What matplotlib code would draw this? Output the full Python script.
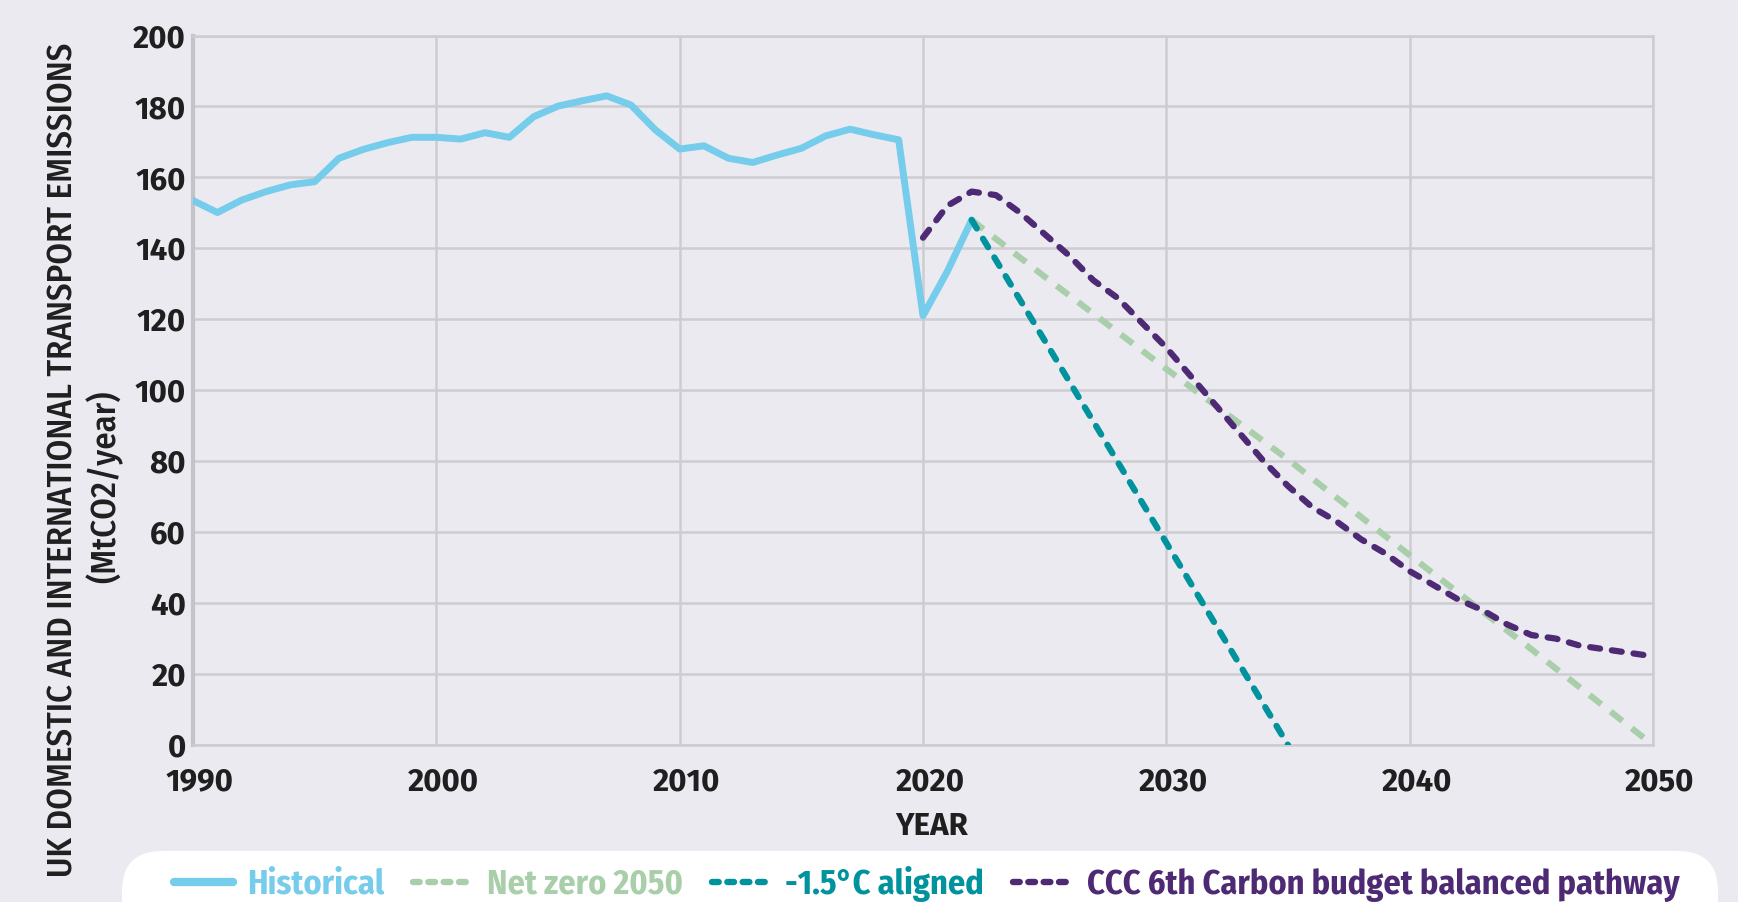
import matplotlib
matplotlib.use("Agg")
import matplotlib.pyplot as plt
import matplotlib.transforms as mtransforms
from matplotlib.patches import FancyBboxPatch

# Data (MtCO2/year)
hist_years = [1990, 1991, 1992, 1993, 1994, 1995, 1996, 1997, 1998, 1999,
              2000, 2001, 2002, 2003, 2004, 2005, 2006, 2007, 2008, 2009,
              2010, 2011, 2012, 2013, 2014, 2015, 2016, 2017, 2018, 2019,
              2020, 2021, 2022]
hist_vals = [153.5, 150.1, 153.6, 156.0, 157.9, 158.8, 165.4, 167.9, 169.8, 171.3,
             171.3, 170.8, 172.6, 171.3, 177.1, 180.1, 181.6, 183.0, 180.4, 173.4,
             168.0, 168.9, 165.4, 164.2, 166.3, 168.2, 171.7, 173.6, 172.0, 170.6,
             121.0, 133.5, 148.0]

netzero_years = [2022, 2025, 2030, 2035, 2040, 2045, 2050]
netzero_vals = [148.0, 132.0, 106.0, 80.5, 53.5, 27.0, 0.0]

aligned_years = [2022, 2025, 2030, 2035]
aligned_vals = [148.0, 114.0, 57.0, 0.0]

ccc_years = list(range(2020, 2051))
ccc_vals = [143, 152, 156, 155, 150, 144, 138, 131, 126, 119,
            112, 104, 96, 88, 80, 73, 67, 63, 58, 54,
            49, 45, 41, 38, 34, 31, 30, 28, 27, 26, 25]

labels = ["Historical", "Net zero 2050", "-1.5°C aligned",
          "CCC 6th Carbon budget balanced pathway"]
colors = ["#75CCEB", "#A8CFAA", "#00939D", "#4E2A74"]

BG = "#ECEAF1"
GRID = "#CDCCD0"
TICK_FONT = ["Fira Sans", "Open Sans", "DejaVu Sans"]
COND_FONT = ["Fira Sans Condensed", "Open Sans Condensed", "DejaVu Sans"]

fig = plt.figure(figsize=(17.38, 9.02), dpi=100, facecolor=BG)
ax = fig.add_axes([193 / 1738, 1 - 745 / 902, 1460 / 1738, 709.5 / 902])
ax.set_facecolor(BG)

ax.plot(hist_years, hist_vals, color=colors[0], lw=5, solid_capstyle="round",
        solid_joinstyle="round", label=labels[0], zorder=3)
ax.plot(netzero_years, netzero_vals, color=colors[1], lw=4.5, dashes=(2.4, 1.9),
        label=labels[1], zorder=3)
ax.plot(aligned_years, aligned_vals, color=colors[2], lw=4.5, dashes=(1.6, 1.9),
        dash_capstyle="round", label=labels[2], zorder=4)
ax.plot(ccc_years, ccc_vals, color=colors[3], lw=4.5, dashes=(1.6, 1.9),
        dash_capstyle="round", label=labels[3], zorder=5)

ax.set_xlim(1990, 2050)
ax.set_ylim(0, 200)
ax.set_xticks(range(1990, 2051, 10))
ax.set_yticks(range(0, 201, 20))
ax.grid(True, color=GRID, lw=1.8, zorder=0)
ax.set_axisbelow(True)
for side in ["top", "right", "bottom"]:
    ax.spines[side].set_color(GRID)
    ax.spines[side].set_linewidth(1.8)
ax.spines["left"].set_color("#C4C3C7")
ax.spines["left"].set_linewidth(3)
ax.tick_params(length=0)
ax.tick_params(axis="x", pad=16)
ax.tick_params(axis="y", pad=5)
for t in ax.get_xticklabels() + ax.get_yticklabels():
    t.set_fontfamily(TICK_FONT)
    t.set_fontweight("bold")
    t.set_fontsize(22.5)
    t.set_color("#1F1F1F")
# year labels sit a little right of their gridlines in the original
shift = mtransforms.ScaledTranslation(7 / 100, 0, fig.dpi_scale_trans)
for t in ax.get_xticklabels():
    t.set_transform(t.get_transform() + shift)

ax.set_xlabel("YEAR", fontsize=22.5, fontweight="bold", family=TICK_FONT,
              color="#1F1F1F", labelpad=16)
ax.xaxis.set_label_coords(0.5 + 9 / 1460, -0.094)

fig.text(63 / 1738, 1 - 460 / 902, "UK DOMESTIC AND INTERNATIONAL TRANSPORT EMISSIONS",
         rotation=90, ha="center", va="center", fontsize=25, fontweight="medium",
         family=COND_FONT, color="#1F1F1F")
fig.text(105 / 1738, 1 - 487 / 902, "(MtCO2/year)",
         rotation=90, ha="center", va="center", fontsize=25, fontweight="medium",
         family=COND_FONT, color="#1F1F1F")

# white rounded legend panel running off the bottom edge
panel = FancyBboxPatch((122, -60), 1596, 111, boxstyle="round,pad=0,rounding_size=40",
                       transform=mtransforms.IdentityTransform(), facecolor="white",
                       edgecolor="none", zorder=1)
fig.patches.append(panel)

handles, labs = ax.get_legend_handles_labels()
leg = fig.legend(handles, labs, loc="center", bbox_to_anchor=(0.533, 1 - 884 / 902),
                 ncol=4, frameon=False, handlelength=1.75, handletextpad=0.4,
                 columnspacing=0.85, prop={"family": COND_FONT,
                                           "weight": "bold", "size": 24.6})
leg.set_zorder(2)
for txt, c in zip(leg.get_texts(), colors):
    txt.set_color(c)
for i, ln in enumerate(leg.get_lines()):
    if i == 0:
        ln.set_linewidth(6)
    else:
        ln.set_linewidth(4.6)
        ln.set_dashes((1.05, 1.35))
        ln.set_dash_capstyle("round")

fig.savefig("out.png", dpi=100, facecolor=BG)
